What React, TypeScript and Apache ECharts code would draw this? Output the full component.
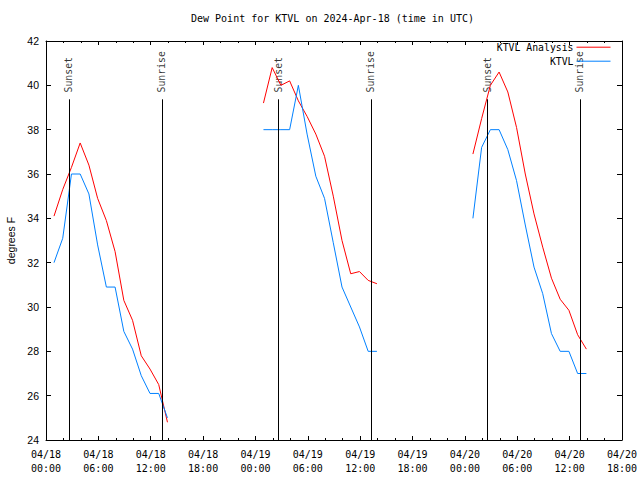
import React, { useEffect, useRef } from "react";
import * as echarts from "echarts";

// ---- data ----
const DAYS = ["2024-04-18", "2024-04-19", "2024-04-20"];
const OBS_TIMES = ["00:55", "01:55", "02:55", "03:55", "04:55", "05:55", "06:55", "07:55", "08:55", "09:55", "10:55", "11:55", "12:55", "13:55"];

const analysisDay1 = [34.1, 35.3, 36.3, 37.4, 36.4, 34.9, 33.9, 32.5, 30.3, 29.4, 27.8, 27.2, 26.5, 24.8];
const analysisDay2 = [39.2, 40.8, 40.0, 40.2, 39.3, 38.6, 37.8, 36.8, 35.0, 33.0, 31.5, 31.6, 31.2, 31.05];
const analysisDay3 = [36.9, 38.5, 40.0, 40.6, 39.7, 38.1, 36.0, 34.2, 32.7, 31.3, 30.35, 29.85, 28.75, 28.1];

const obsDay1 = [32.0, 33.1, 36.0, 36.0, 35.1, 32.8, 30.9, 30.9, 28.9, 28.1, 26.9, 26.1, 26.1, 25.0];
const obsDay2 = [38.0, 38.0, 38.0, 38.0, 40.0, 37.8, 35.9, 34.9, 32.9, 30.9, 30.0, 29.1, 28.0, 28.0];
const obsDay3 = [34.0, 37.2, 38.0, 38.0, 37.1, 35.7, 33.7, 31.8, 30.6, 28.8, 28.0, 28.0, 27.0, 27.0];

const sunEvents = [
  { time: "2024-04-18T02:38:00Z", label: "Sunset" },
  { time: "2024-04-18T13:17:00Z", label: "Sunrise" },
  { time: "2024-04-19T02:35:00Z", label: "Sunset" },
  { time: "2024-04-19T13:14:00Z", label: "Sunrise" },
  { time: "2024-04-20T02:32:00Z", label: "Sunset" },
  { time: "2024-04-20T13:11:00Z", label: "Sunrise" },
];

const X_MIN = Date.parse("2024-04-18T00:00:00Z");
const X_MAX = Date.parse("2024-04-20T18:00:00Z");
const SIX_HOURS = 6 * 3600 * 1000;
const Y_MIN = 24;
const Y_MAX = 42;
const SUN_LINE_TOP = 39.37;
const SUN_LABEL_Y = 39.68;

const TITLE = "Dew Point for KTVL on 2024-Apr-18 (time in UTC)";
const ANALYSIS_NAME = "KTVL Analysis";
const OBS_NAME = "KTVL";
const RED = "#ff0000";
const BLUE = "#0080ff";
const MONO = "DejaVu Sans Mono";
const SANS = "Liberation Sans";

const pad = (n: number) => (n < 10 ? "0" + n : "" + n);
const fmtTime = (v: number) => {
  const d = new Date(v);
  return `${pad(d.getUTCMonth() + 1)}/${pad(d.getUTCDate())}\n${pad(d.getUTCHours())}:${pad(d.getUTCMinutes())}`;
};

const toPairs = (day: string, vals: number[]) =>
  vals.map((v, i) => [Date.parse(`${day}T${OBS_TIMES[i]}:00Z`), v]);

export default function App() {
  const ref = useRef<HTMLDivElement>(null);
  useEffect(() => {
    if (!ref.current) return;
    const chart = echarts.init(ref.current, null, { renderer: "svg" });

    const analysisSets = [analysisDay1, analysisDay2, analysisDay3];
    const obsSets = [obsDay1, obsDay2, obsDay3];
    const lineSeries: any[] = [];
    DAYS.forEach((day, i) => {
      lineSeries.push({
        name: ANALYSIS_NAME,
        type: "line",
        data: toPairs(day, analysisSets[i]),
        symbol: "none",
        color: RED,
        lineStyle: { color: RED, width: 1 },
        z: 3,
      });
    });
    DAYS.forEach((day, i) => {
      lineSeries.push({
        name: OBS_NAME,
        type: "line",
        data: toPairs(day, obsSets[i]),
        symbol: "none",
        color: BLUE,
        lineStyle: { color: BLUE, width: 1 },
        z: 3,
      });
    });

    const axisCommonX = {
      type: "value",
      min: X_MIN,
      max: X_MAX,
      interval: SIX_HOURS,
      axisLine: { show: true, lineStyle: { color: "#000", width: 1 } },
      axisTick: { show: true, inside: true, length: 4, lineStyle: { color: "#000" } },
      minorTick: { show: true, splitNumber: 3, length: 2, lineStyle: { color: "#000" } },
      splitLine: { show: false },
      minorSplitLine: { show: false },
    };
    const axisCommonY = {
      type: "value",
      min: Y_MIN,
      max: Y_MAX,
      interval: 2,
      axisLine: { show: true, lineStyle: { color: "#000", width: 1 } },
      axisTick: { show: true, inside: true, length: 5, lineStyle: { color: "#000" } },
      splitLine: { show: false },
    };

    const legendCommon = {
      orient: "vertical",
      align: "right",
      right: 29,
      itemWidth: 34,
      itemHeight: 13,
      padding: 0,
      itemStyle: { opacity: 0, borderWidth: 0 },
      lineStyle: { width: 1 },
      textStyle: { fontFamily: MONO, fontSize: 9.8, color: "#000", padding: [0, -2, 0, 0] },
    };

    chart.setOption({
      animation: false,
      backgroundColor: "#fff",
      title: {
        text: TITLE,
        left: 191,
        top: 13,
        padding: 0,
        textStyle: { fontFamily: MONO, fontSize: 10, fontWeight: "normal", color: "#000" },
      },
      legend: [
        { ...legendCommon, data: [ANALYSIS_NAME], top: 42 },
        { ...legendCommon, data: [OBS_NAME], top: 56 },
      ],
      grid: { left: 46, right: 18, top: 41, bottom: 40, containLabel: false, outerBoundsMode: "none" },
      xAxis: [
        {
          ...axisCommonX,
          position: "bottom",
          axisLabel: {
            show: true,
            formatter: fmtTime,
            fontFamily: MONO,
            fontSize: 10,
            lineHeight: 14,
            color: "#000",
            margin: 7,
            showMinLabel: true,
            showMaxLabel: true,
          },
        },
        { ...axisCommonX, position: "top", axisLabel: { show: false } },
      ],
      yAxis: [
        {
          ...axisCommonY,
          position: "left",
          name: "degrees F",
          nameLocation: "middle",
          nameGap: 30,
          nameRotate: 90,
          nameTextStyle: { fontFamily: SANS, fontSize: 10.5, color: "#000" },
          axisLabel: { fontFamily: SANS, fontSize: 10.5, color: "#000", margin: 7 },
        },
        { ...axisCommonY, position: "right", axisLabel: { show: false } },
      ],
      series: [
        ...lineSeries,
        {
          name: "sun",
          type: "scatter",
          symbolSize: 0,
          silent: true,
          data: sunEvents.map((e) => [Date.parse(e.time), SUN_LABEL_Y, e.label]),
          label: {
            show: true,
            position: "right",
            distance: 0,
            rotate: 90,
            align: "left",
            verticalAlign: "middle",
            formatter: (p: any) => p.value[2],
            fontFamily: MONO,
            fontSize: 9.8,
            color: "#000",
          },
          markLine: {
            silent: true,
            symbol: ["none", "none"],
            label: { show: false },
            lineStyle: { color: "#000", width: 1, type: "solid" },
            data: sunEvents.map((e) => [
              { coord: [Date.parse(e.time), Y_MIN] },
              { coord: [Date.parse(e.time), SUN_LINE_TOP] },
            ]),
          },
          z: 2,
        },
      ],
    });
    return () => chart.dispose();
  }, []);
  return (
    <div
      ref={ref}
      style={{ position: "absolute", left: 0, top: 0, width: 640, height: 480, background: "#fff" }}
    />
  );
}
